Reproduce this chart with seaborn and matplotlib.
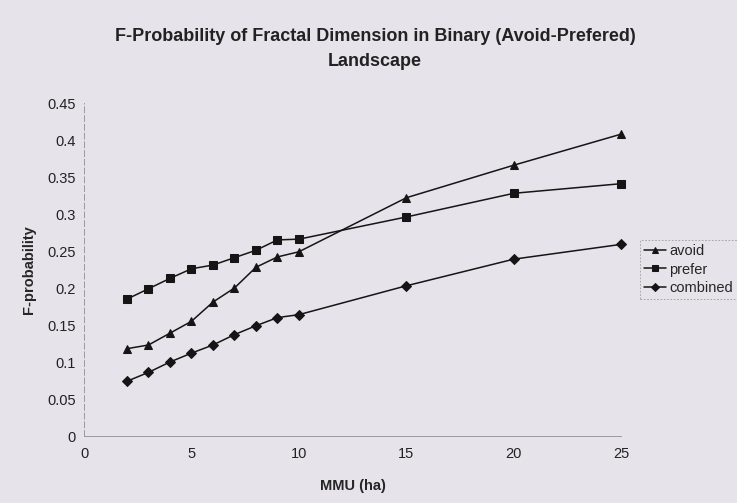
import matplotlib
matplotlib.use("Agg")
import matplotlib.pyplot as plt
import seaborn as sns
import pandas as pd

# MMU sizes (ha) and F-probability per landscape class
mmu = [2, 3, 4, 5, 6, 7, 8, 9, 10, 15, 20, 25]
avoid = [0.118, 0.123, 0.139, 0.155, 0.181, 0.200, 0.228, 0.242, 0.249, 0.322, 0.366, 0.408]
prefer = [0.185, 0.199, 0.213, 0.226, 0.231, 0.241, 0.251, 0.265, 0.266, 0.296, 0.328, 0.341]
combined = [0.074, 0.086, 0.100, 0.112, 0.123, 0.137, 0.149, 0.160, 0.164, 0.203, 0.239, 0.259]
series_names = ["avoid", "prefer", "combined"]
x_ticks = [0, 5, 10, 15, 20, 25]
y_ticks = [0, 0.05, 0.1, 0.15, 0.2, 0.25, 0.3, 0.35, 0.4, 0.45]
y_tick_labels = ["0", "0.05", "0.1", "0.15", "0.2", "0.25", "0.3", "0.35", "0.4", "0.45"]

df = pd.concat([
    pd.DataFrame({"MMU": mmu, "F": vals, "series": name})
    for name, vals in zip(series_names, [avoid, prefer, combined])
])

sns.set_theme(style="white")
plt.rcParams["font.family"] = ["Liberation Sans", "DejaVu Sans"]
bg = "#e6e4ea"

fig = plt.figure(figsize=(7.37, 5.03), dpi=100, facecolor=bg)
ax = fig.add_axes([0.114, 0.1332, 0.729, 0.662])
ax.set_facecolor(bg)

sns.lineplot(
    data=df, x="MMU", y="F", style="series", hue="series",
    palette={n: "#151515" for n in series_names},
    markers={"avoid": "^", "prefer": "s", "combined": "D"},
    dashes=False, markersize=5.5, linewidth=1.1, ax=ax,
    markeredgecolor="#151515", clip_on=False,
)

ax.set_xlim(0, 25)
ax.set_ylim(0, 0.45)
ax.set_xticks(x_ticks)
ax.set_yticks(y_ticks)
ax.set_yticklabels(y_tick_labels)
ax.tick_params(axis="both", labelsize=10.5, colors="#222222", length=3, width=0.6,
               direction="out")
ax.tick_params(axis="x", pad=5, color="#aaaaaa")
ax.tick_params(axis="y", pad=3, color="#aaaaaa")

for side in ["top", "right"]:
    ax.spines[side].set_visible(False)
ax.spines["left"].set_color("#9a9a9a")
ax.spines["left"].set_linewidth(0.7)
ax.spines["left"].set_linestyle((0, (6, 3)))
ax.spines["bottom"].set_color("#9a9a9a")
ax.spines["bottom"].set_linewidth(0.7)

ax.set_xlabel("MMU (ha)", fontsize=10.5, fontweight="bold", labelpad=13)
ax.set_ylabel("F-probability", fontsize=10.5, fontweight="bold", labelpad=8)

fig.text(0.509, 0.928, "F-Probability of Fractal Dimension in Binary (Avoid-Prefered)",
         ha="center", va="center", fontsize=13, fontweight="bold", color="#222222")
fig.text(0.509, 0.878, "Landscape", ha="center", va="center",
         fontsize=13, fontweight="bold", color="#222222")

leg = ax.legend(loc="center left", bbox_to_anchor=(1.035, 0.50), frameon=True,
                fontsize=10.5, handlelength=1.5, handletextpad=0.25,
                borderpad=0.25, borderaxespad=0, labelspacing=0.3, fancybox=False,
                markerscale=0.8)
leg.get_frame().set_facecolor(bg)
leg.get_frame().set_edgecolor("#888888")
leg.get_frame().set_linewidth(0.6)
leg.get_frame().set_linestyle((0, (2, 2)))

fig.savefig("out.png", dpi=100, facecolor=bg)
